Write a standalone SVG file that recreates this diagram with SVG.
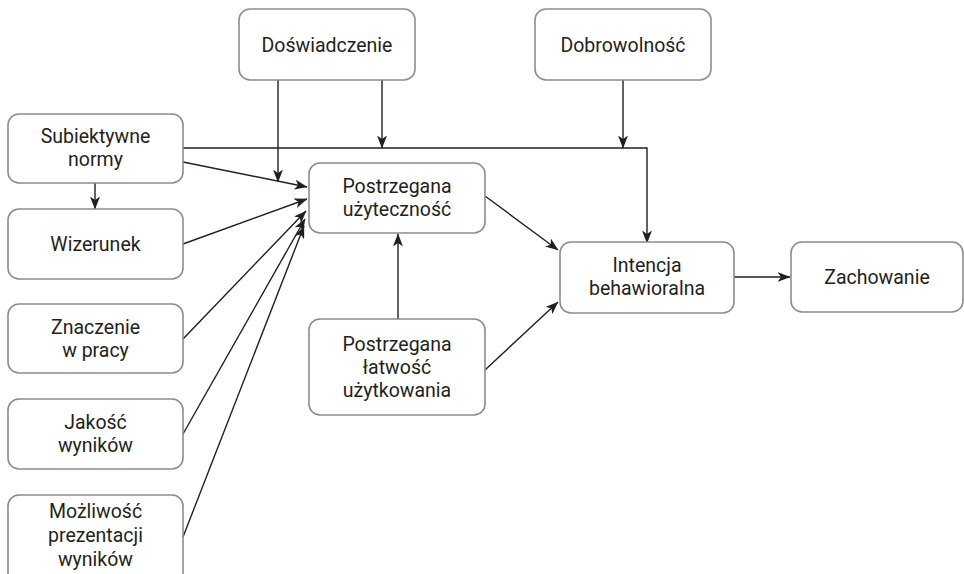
<svg xmlns="http://www.w3.org/2000/svg" width="964" height="574" viewBox="0 0 964 574">
<defs>
<style>
.box{fill:#fff;stroke:#8c8c8c;stroke-width:1.6}
.t{font-family:Roboto,"Liberation Sans",sans-serif;font-size:19.5px;fill:#231f20;text-anchor:middle}
.c{fill:none;stroke:#231f20;stroke-width:1.4}
</style>
<marker id="a" viewBox="0 0 13 10" refX="12.5" refY="5" markerWidth="13" markerHeight="10" markerUnits="userSpaceOnUse" orient="auto">
<path d="M0,0 L13,5 L0,10 L3.5,5 Z" fill="#231f20"/>
</marker>
</defs>
<rect width="964" height="574" fill="#fff"/>
<g id="connectors">
<path class="c" d="M278,80 V182" marker-end="url(#a)"/>
<path class="c" d="M382,80 V148" marker-end="url(#a)"/>
<path class="c" d="M623,80 V148" marker-end="url(#a)"/>
<path class="c" d="M183,148 H647 V243" marker-end="url(#a)"/>
<path class="c" d="M95,183 V209" marker-end="url(#a)"/>
<path class="c" d="M183,162 L307,187" marker-end="url(#a)"/>
<path class="c" d="M183,244 L307,199" marker-end="url(#a)"/>
<path class="c" d="M183,339 L306,211" marker-end="url(#a)"/>
<path class="c" d="M183,434 L305,219" marker-end="url(#a)"/>
<path class="c" d="M183,537 L304,226" marker-end="url(#a)"/>
<path class="c" d="M398,319 V234" marker-end="url(#a)"/>
<path class="c" d="M485,196 L558,250" marker-end="url(#a)"/>
<path class="c" d="M485,370 L558,302" marker-end="url(#a)"/>
<path class="c" d="M734,277 H790" marker-end="url(#a)"/>
</g>
<g id="doswiadczenie"><rect class="box" x="239" y="9" width="176" height="71" rx="11"/><text class="t" x="327" y="52">Doświadczenie</text></g>
<g id="dobrowolnosc"><rect class="box" x="535" y="9" width="176" height="71" rx="11"/><text class="t" x="623" y="52">Dobrowolność</text></g>
<g id="subiektywne"><rect class="box" x="8" y="114" width="175" height="69" rx="11"/><text class="t" x="95.5" y="143">Subiektywne<tspan x="95.5" dy="23">normy</tspan></text></g>
<g id="wizerunek"><rect class="box" x="8" y="209" width="175" height="70" rx="11"/><text class="t" x="95.5" y="251">Wizerunek</text></g>
<g id="znaczenie"><rect class="box" x="8" y="304" width="175" height="69" rx="11"/><text class="t" x="95.5" y="334">Znaczenie<tspan x="95.5" dy="23">w pracy</tspan></text></g>
<g id="jakosc"><rect class="box" x="8" y="399" width="175" height="70" rx="11"/><text class="t" x="95.5" y="429">Jakość<tspan x="95.5" dy="23">wyników</tspan></text></g>
<g id="mozliwosc"><rect class="box" x="8" y="495" width="175" height="90" rx="11"/><text class="t" x="95.5" y="518">Możliwość<tspan x="95.5" dy="24">prezentacji</tspan><tspan x="95.5" dy="24">wyników</tspan></text></g>
<g id="uzytecznosc"><rect class="box" x="309" y="163" width="176" height="70" rx="11"/><text class="t" x="397" y="193">Postrzegana<tspan x="397" dy="23">użyteczność</tspan></text></g>
<g id="latwosc"><rect class="box" x="309" y="319" width="176" height="96" rx="11"/><text class="t" x="397" y="351">Postrzegana<tspan x="397" dy="23">łatwość</tspan><tspan x="397" dy="23">użytkowania</tspan></text></g>
<g id="intencja"><rect class="box" x="560" y="242" width="174" height="71" rx="11"/><text class="t" x="647" y="272">Intencja<tspan x="647" dy="23">behawioralna</tspan></text></g>
<g id="zachowanie"><rect class="box" x="791" y="242" width="172" height="70" rx="11"/><text class="t" x="877" y="284">Zachowanie</text></g>
</svg>
